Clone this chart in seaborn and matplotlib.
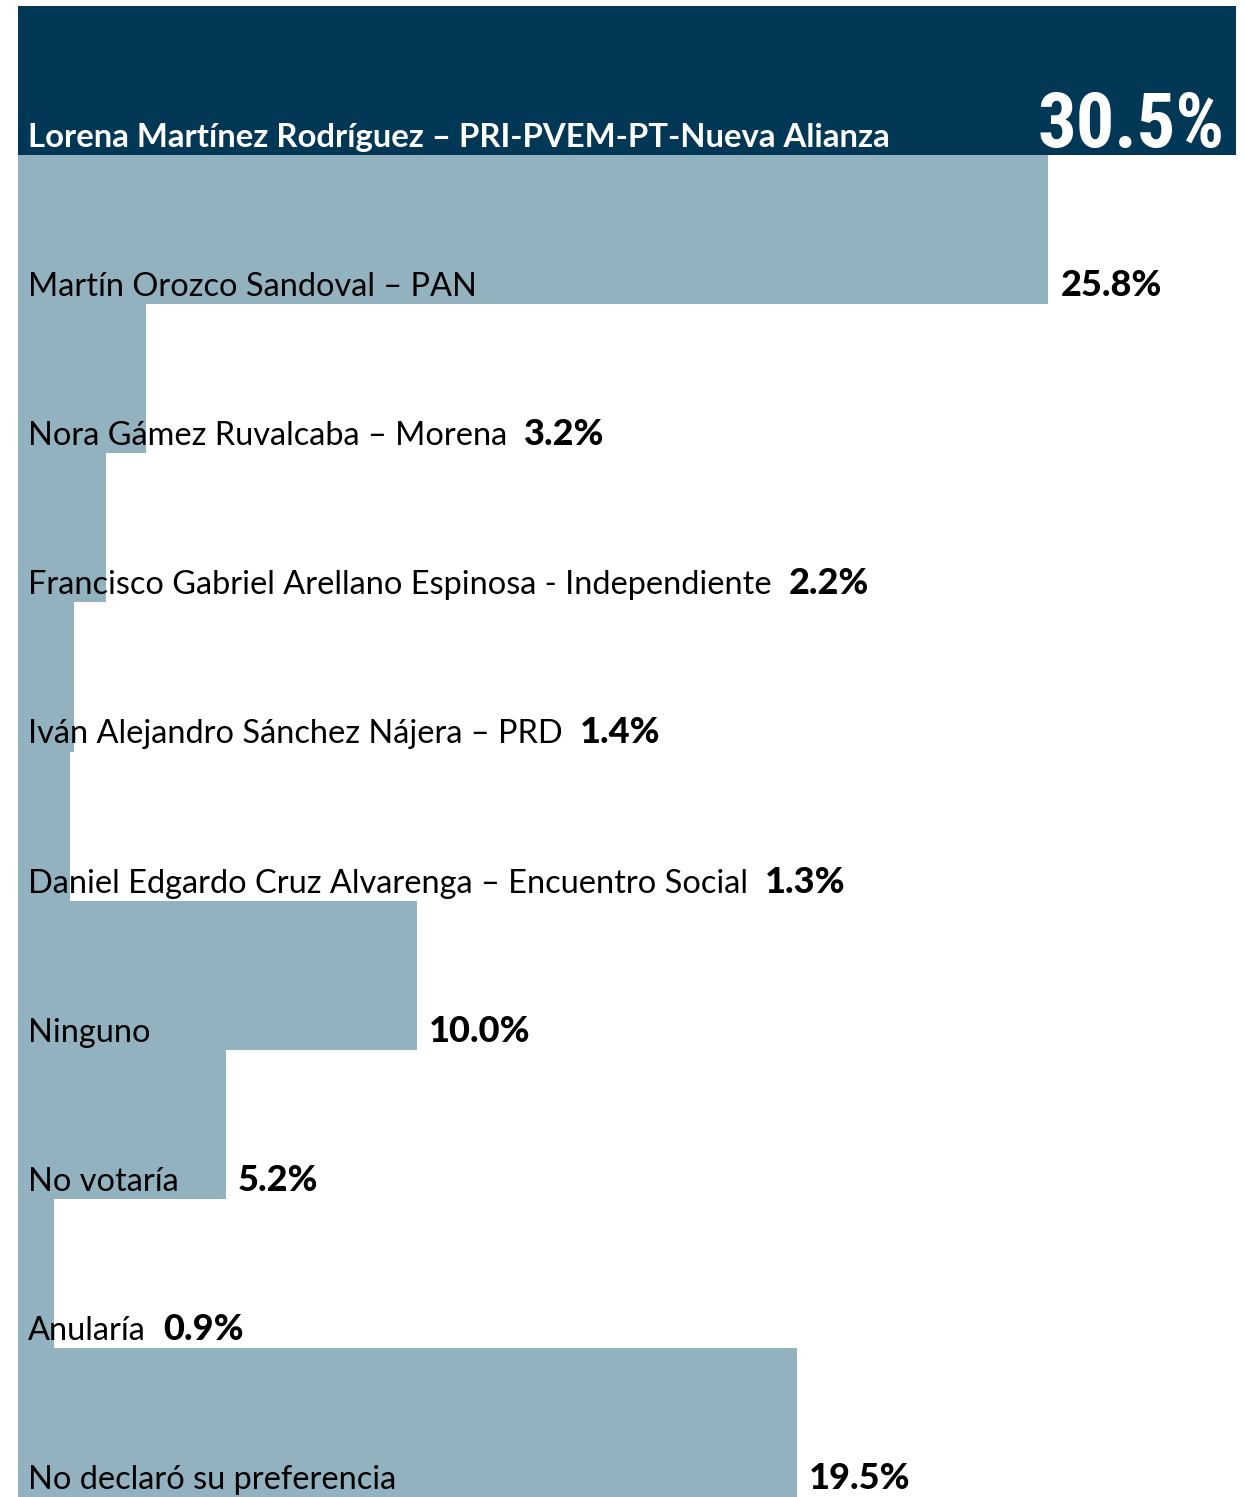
import matplotlib
matplotlib.use("Agg")
import matplotlib.pyplot as plt
import seaborn as sns
import pandas as pd

categories = [
    "Lorena Martínez Rodríguez – PRI-PVEM-PT-Nueva Alianza",
    "Martín Orozco Sandoval – PAN",
    "Nora Gámez Ruvalcaba – Morena",
    "Francisco Gabriel Arellano Espinosa - Independiente",
    "Iván Alejandro Sánchez Nájera – PRD",
    "Daniel Edgardo Cruz Alvarenga – Encuentro Social",
    "Ninguno",
    "No votaría",
    "Anularía",
    "No declaró su preferencia",
]
values = [30.5, 25.8, 3.2, 2.2, 1.4, 1.3, 10.0, 5.2, 0.9, 19.5]
value_labels = ["30.5%", "25.8%", "3.2%", "2.2%", "1.4%", "1.3%", "10.0%", "5.2%", "0.9%", "19.5%"]

NAVY = "#023756"
LIGHT = "#93B2BF"
colors = [NAVY] + [LIGHT] * (len(categories) - 1)

sns.set_theme(style="white")
plt.rcParams["font.family"] = ["Lato", "DejaVu Sans"]

W, H, DPI = 1245, 1497, 100
fig = plt.figure(figsize=(W / DPI, H / DPI), dpi=DPI)
ax = fig.add_axes([18 / W, 0, 1218 / W, 1491 / H])

df = pd.DataFrame({"cat": categories, "val": values})
sns.barplot(data=df, x="val", y="cat", hue="cat", palette=colors, orient="h",
            width=1.0, legend=False, ax=ax, saturation=1, linewidth=0)
for p in ax.patches:
    p.set_linewidth(0)
ax.set_xlim(0, 30.5)
ax.set_ylim(len(categories) - 0.5, -0.5)
ax.axis("off")

px = 72 / DPI
fig.canvas.draw()
renderer = fig.canvas.get_renderer()
label_texts = []
for i, (c, v) in enumerate(zip(categories, values)):
    first = i == 0
    t = ax.annotate(c, xy=(0, i + 0.5), xycoords="data",
                    xytext=(10 * px, 8 * px), textcoords="offset points",
                    ha="left", va="baseline",
                    fontsize=23.7 if first else 23.4,
                    color="white" if first else "black",
                    fontweight="bold" if first else "normal")
    label_texts.append(t)

fig.canvas.draw()
inv = ax.transData.inverted()
for i, (t, v, lab) in enumerate(zip(label_texts, values, value_labels)):
    if i == 0:
        ax.annotate(lab, xy=(v, i + 0.5), xycoords="data",
                    xytext=(-11 * px, 8 * px), textcoords="offset points",
                    ha="right", va="baseline", fontsize=55, color="white",
                    fontweight="bold",
                    family=["Roboto Condensed", "DejaVu Sans"])
        continue
    bb = t.get_window_extent(renderer)
    bar_end = ax.transData.transform((v, 0))[0]
    start = max(bb.x1 + 17, bar_end + 12)
    xd = inv.transform((start, 0))[0]
    ax.annotate(lab, xy=(xd, i + 0.5), xycoords="data",
                xytext=(0, 8 * px), textcoords="offset points",
                ha="left", va="baseline", fontsize=26, color="black",
                fontweight="black")

fig.savefig("out.png", dpi=DPI, facecolor="white")
